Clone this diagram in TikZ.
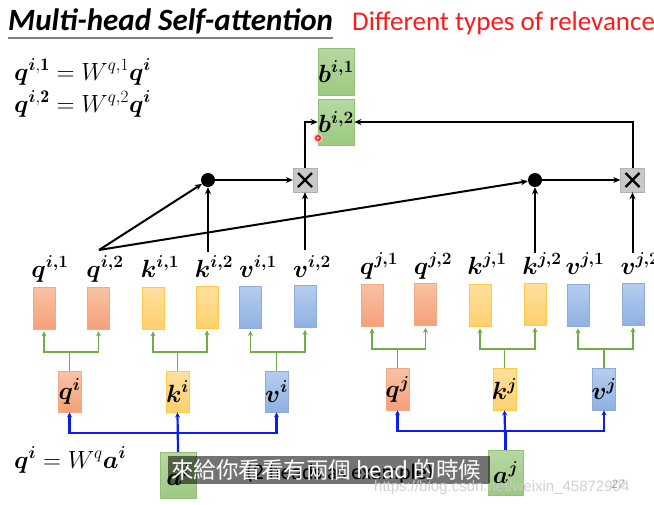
\documentclass[tikz,border=0pt]{standalone}
\usepackage{fontspec}
\usepackage{bm}
\usetikzlibrary{arrows.meta,calc}
\newfontfamily\titlefont{Carlito}
\newfontfamily\cjkfont{Noto Sans CJK TC}
\newfontfamily\markfont{Liberation Sans}

\definecolor{qtop}{HTML}{F9C2A4}
\definecolor{qbot}{HTML}{F5A07A}
\definecolor{qline}{HTML}{F4A882}
\definecolor{ktop}{HTML}{FFE09E}
\definecolor{kbot}{HTML}{FFD06E}
\definecolor{kline}{HTML}{FFC94A}
\definecolor{vtop}{HTML}{B6CDEF}
\definecolor{vbot}{HTML}{8EB1E3}
\definecolor{vline}{HTML}{8FAADC}
\definecolor{gtop}{HTML}{B7D8A2}
\definecolor{gbot}{HTML}{9DC982}
\definecolor{gline}{HTML}{93BF76}
\definecolor{brgreen}{HTML}{70AD47}
\definecolor{arblue}{HTML}{0A1EF0}
\definecolor{titlered}{HTML}{FF1A1A}

\tikzset{
  vecbox/.style={draw, line width=0.8pt, minimum width=22pt, minimum height=42pt, inner sep=0pt},
  qbox/.style={vecbox, top color=qtop, bottom color=qbot, draw=qline},
  kbox/.style={vecbox, top color=ktop, bottom color=kbot, draw=kline},
  vbox/.style={vecbox, top color=vtop, bottom color=vbot, draw=vline},
  gbox/.style={draw=gline, line width=0.8pt, top color=gtop, bottom color=gbot, inner sep=0pt},
  lbl/.style={font=\fontsize{25}{27}\selectfont, anchor=base, inner sep=0pt},
  boxtxt/.style={font=\fontsize{24}{26}\selectfont},
  eqn/.style={font=\fontsize{25.5}{27}\selectfont, anchor=base west, inner sep=0pt},
  dotnode/.style={circle, fill=black, minimum size=14pt, inner sep=0pt},
  mulbox/.style={draw=gray!60, fill=gray!42, minimum size=24pt, inner sep=0pt},
  blk/.style={-{Stealth[length=7pt,width=6pt]}, line width=2pt, black},
  grn/.style={-{Stealth[length=5pt,width=5pt]}, line width=1.8pt, brgreen},
  blu/.style={-{Stealth[length=5pt,width=5pt]}, line width=2.2pt, arblue},
}

\begin{document}
\begin{tikzpicture}[x=1pt,y=-1pt]
\useasboundingbox (0,0) rectangle (654,504);
\fill[white] (0,0) rectangle (654,504);

% headline
\node[anchor=base west, inner sep=0pt, font=\titlefont\bfseries\itshape\fontsize{31}{33}\selectfont] (title) at (8,30) {Multi-head Self-attention};
\draw[gray, line width=1.3pt] (8,38) -- (333,38);
\node[anchor=base west, inner sep=0pt, text=titlered, font=\titlefont\fontsize{27}{29}\selectfont] (sub) at (352,30) {Different types of relevance};

% formulas
\node[eqn] (eq1) at (14,80) {$\bm{q}^{\bm{i},\mathbf{1}} = W^{q,1}\bm{q}^{\bm{i}}$};
\node[eqn] (eq2) at (14,112) {$\bm{q}^{\bm{i},\mathbf{2}} = W^{q,2}\bm{q}^{\bm{i}}$};
\node[eqn] (eq3) at (14,468) {$\bm{q}^{\bm{i}} = W^{q}\bm{a}^{\bm{i}}$};

% outputs
\node[gbox, minimum width=36pt, minimum height=47pt] (bi1) at (336,71.5) {};
\node[boxtxt] at (bi1) {$\bm{b^{i,1}}$};
\node[gbox, minimum width=36pt, minimum height=46pt] (bi2) at (336,122) {};
\node[boxtxt] at (bi2) {$\bm{b^{i,2}}$};

% pointer mark
\fill[red!25, opacity=0.7] (318,138) circle (5);
\draw[red, line width=1.2pt] (318,138) circle (2.3);

% head-2 vectors, token i
\node[qbox] (qi1r) at (44,308) {};
\node[qbox] (qi2r) at (98.5,308) {};
\node[kbox] (ki1r) at (153,308) {};
\node[kbox] (ki2r) at (207,307) {};
\node[vbox] (vi1r) at (250.5,307.5) {};
\node[vbox] (vi2r) at (305,306.5) {};
% token j
\node[qbox] (qj1r) at (372,305) {};
\node[qbox] (qj2r) at (425.5,304.5) {};
\node[kbox] (kj1r) at (480,305) {};
\node[kbox] (kj2r) at (535,304) {};
\node[vbox] (vj1r) at (578,305) {};
\node[vbox] (vj2r) at (633,304) {};

% labels above vectors
\node[lbl] (qi1) at (50,277) {$\bm{q^{i,1}}$};
\node[lbl] (qi2) at (105,277) {$\bm{q^{i,2}}$};
\node[lbl] (ki1) at (160,277) {$\bm{k^{i,1}}$};
\node[lbl] (ki2) at (214,277) {$\bm{k^{i,2}}$};
\node[lbl] (vi1) at (258,277) {$\bm{v^{i,1}}$};
\node[lbl] (vi2) at (312,277) {$\bm{v^{i,2}}$};
\node[lbl] (qj1) at (379,274) {$\bm{q^{j,1}}$};
\node[lbl] (qj2) at (433,274) {$\bm{q^{j,2}}$};
\node[lbl] (kj1) at (487,274) {$\bm{k^{j,1}}$};
\node[lbl] (kj2) at (542,274) {$\bm{k^{j,2}}$};
\node[lbl] (vj1) at (585,274) {$\bm{v^{j,1}}$};
\node[lbl] (vj2) at (640,274) {$\bm{v^{j,2}}$};

% projected q, k, v
\node[qbox, minimum width=23pt, minimum height=41pt] (qi) at (69.5,391.5) {};
\node[boxtxt] at (qi) {$\bm{q^{i}}$};
\node[kbox, minimum width=23pt, minimum height=41pt] (ki) at (177.5,391.5) {};
\node[boxtxt] at (ki) {$\bm{k^{i}}$};
\node[vbox, minimum width=23pt, minimum height=41pt] (vi) at (276.5,391.5) {};
\node[boxtxt] at (vi) {$\bm{v^{i}}$};
\node[qbox, minimum width=23pt, minimum height=42pt] (qj) at (397.5,389) {};
\node[boxtxt] at (qj) {$\bm{q^{j}}$};
\node[kbox, minimum width=23pt, minimum height=42pt] (kj) at (504.5,389) {};
\node[boxtxt] at (kj) {$\bm{k^{j}}$};
\node[vbox, minimum width=23pt, minimum height=42pt] (vj) at (604,389) {};
\node[boxtxt] at (vj) {$\bm{v^{j}}$};

% inputs
\node[gbox, minimum width=36pt, minimum height=46pt] (ai) at (178,475) {};
\node[boxtxt] at (ai) {$\bm{a^{i}}$};
\node[gbox, minimum width=35pt, minimum height=45pt] (aj) at (505.5,472.5) {};
\node[boxtxt] at (aj) {$\bm{a^{j}}$};

% dot products and weighting
\node[dotnode] (d1) at (208,180) {};
\node[dotnode] (d2) at (535,180) {};
\node[mulbox] (x1) at (305,180) {};
\node[mulbox] (x2) at (632.5,180) {};
\foreach \m in {x1,x2}{
  \draw[line width=2.2pt] ($(\m.center)+(-7,-7)$) -- ($(\m.center)+(7,7)$);
  \draw[line width=2.2pt] ($(\m.center)+(-7,7)$) -- ($(\m.center)+(7,-7)$);
}

% black connectors
\coordinate (qsrc) at (99,250);
\draw[blk] (qsrc) -- (d1);
\draw[blk] (qsrc) -- (d2);
\draw[blk] (d1 |- 0,252) -- (d1);
\draw[blk] (d2 |- 0,253) -- (d2);
\draw[blk] (x1 |- 0,250) -- (x1);
\draw[blk] (x2 |- 0,253) -- (x2);
\draw[blk] (d1) -- (x1);
\draw[blk] (d2) -- (x2);
\draw[blk] (x1.north) |- (bi2.west);
\draw[blk] (x2.north) |- (bi2.east);

% green splits
\foreach \p/\a/\b/\yy in {qi/qi1r/qi2r/352, ki/ki1r/ki2r/352, vi/vi1r/vi2r/352,
                          qj/qj1r/qj2r/349, kj/kj1r/kj2r/349, vj/vj1r/vj2r/349}{
  \draw[grn, shorten >=2pt] (\p.north) -- (\p.north |- 0,\yy) -| (\a.south);
  \draw[grn, shorten >=2pt] (\p.north) -- (\p.north |- 0,\yy) -| (\b.south);
}

% blue projections
\draw[blu] (ai.north) -- (ki.south);
\draw[blu] (ai.north) -- (ai.north |- 0,433) -| (qi.south);
\draw[blu] (ai.north) -- (ai.north |- 0,433) -| (vi.south);
\draw[blu] (aj.north) -- (kj.south);
\draw[blu] (aj.north) -- (aj.north |- 0,431) -| (qj.south);
\draw[blu] (aj.north) -- (aj.north |- 0,431) -| (vj.south);

% caption beneath the subtitle bar
\node[anchor=base west, inner sep=0pt, font=\titlefont\fontsize{22}{24}\selectfont] (cap) at (246,479) {(2 heads as example)};

% subtitle bar
\fill[black, opacity=0.55] (168,456) rectangle (490,484);
\node[anchor=base west, inner sep=0pt, text=white, font=\cjkfont\fontsize{22.5}{24}\selectfont] (subt) at (171,478) {來給你看看有兩個 head 的時候};

% watermark and page number
\node[anchor=base west, inner sep=0pt, text=gray!40, opacity=0.9, font=\markfont\fontsize{15}{17}\selectfont] (wm) at (374,491) {https://blog.csdn.net/weixin\_45872904};
\node[anchor=base west, inner sep=0pt, text=gray!70, font=\titlefont\itshape\fontsize{13}{15}\selectfont] (pg) at (611,488) {27};
\end{tikzpicture}
\end{document}
